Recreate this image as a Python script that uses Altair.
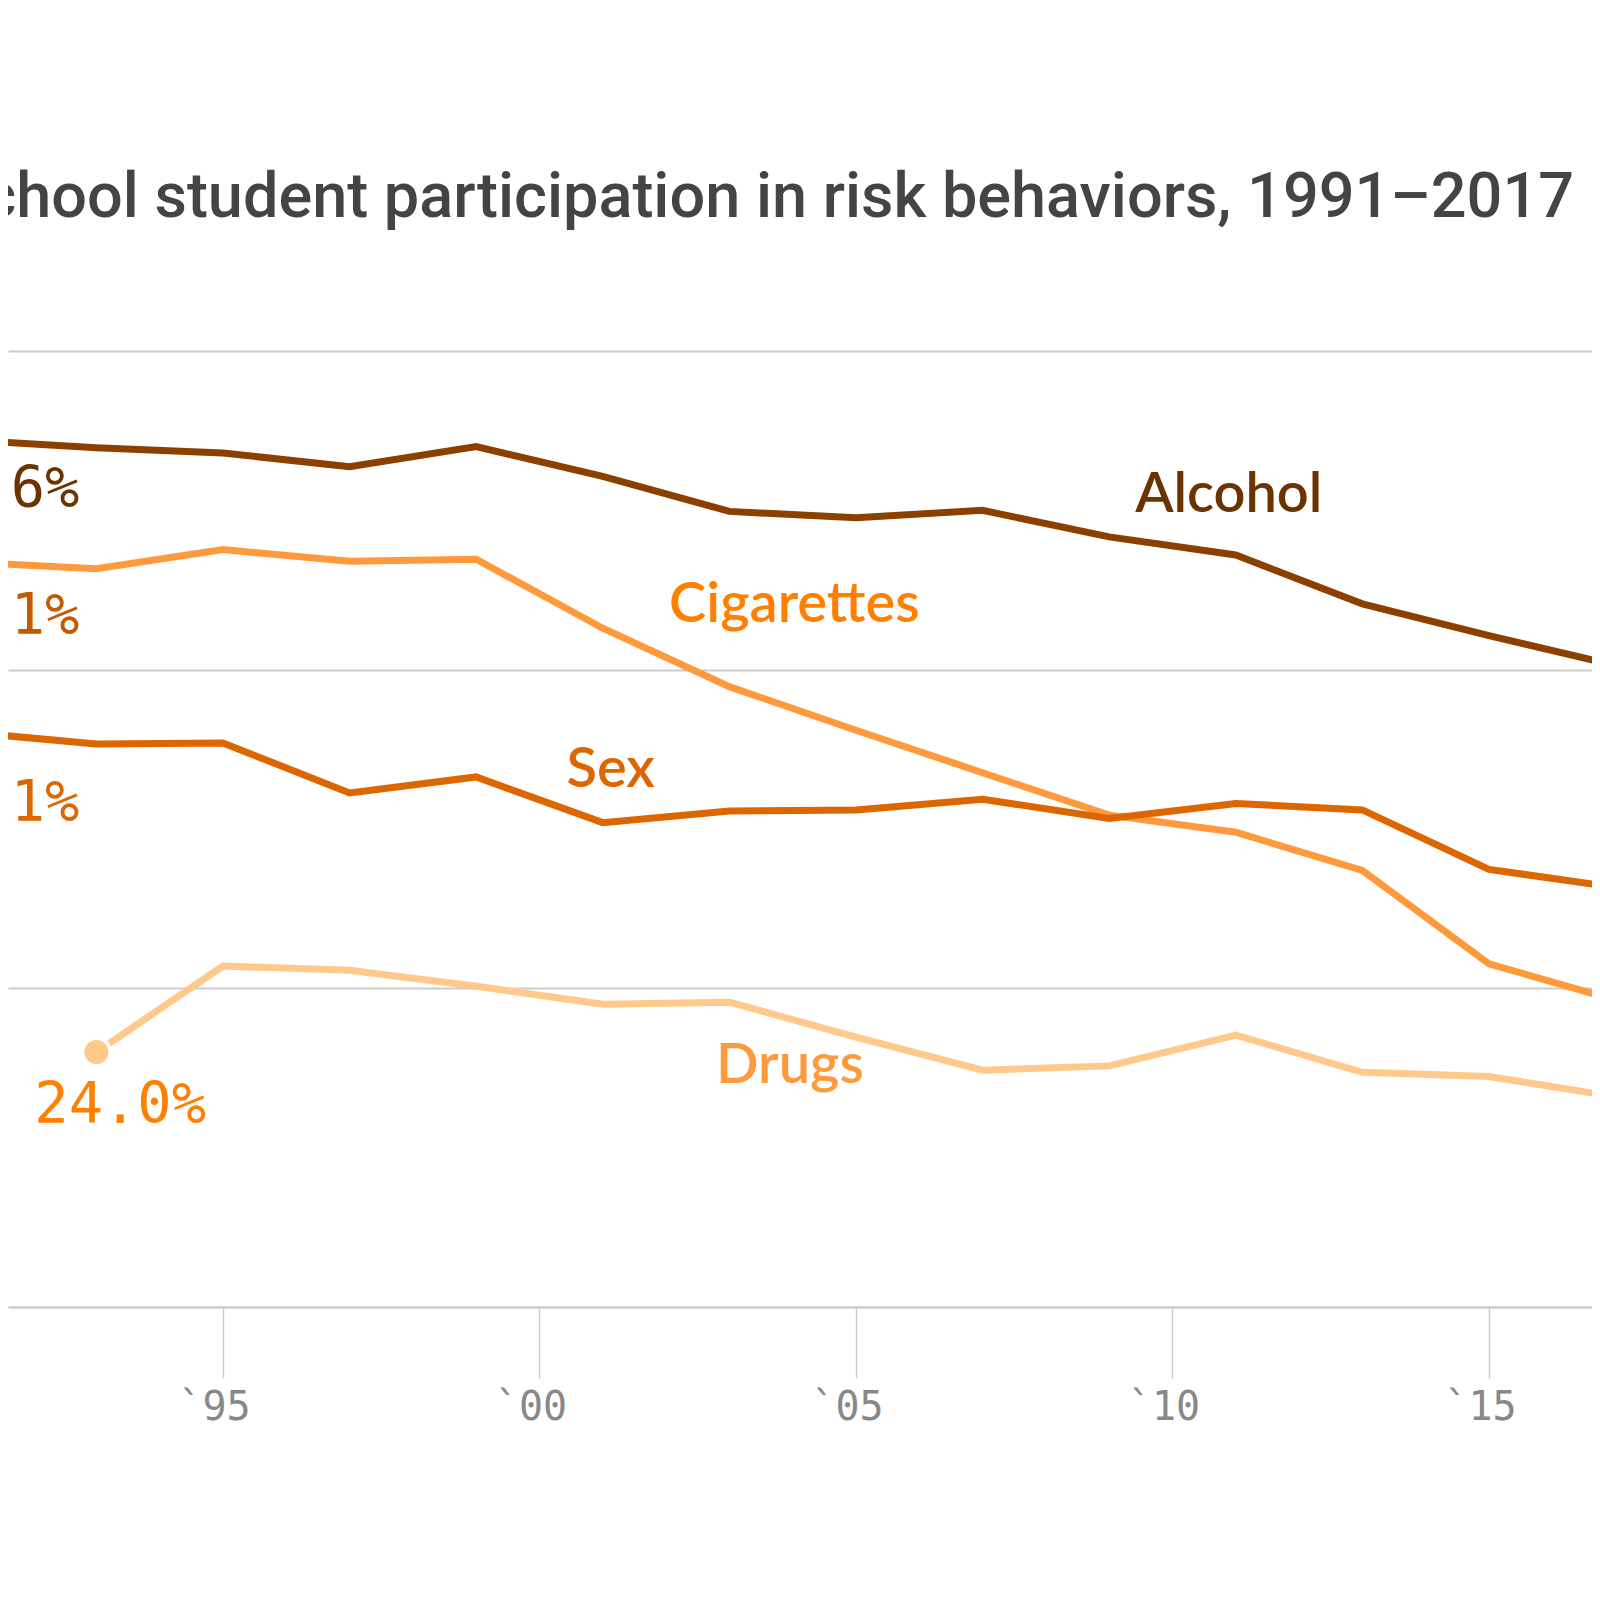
import altair as alt
import pandas as pd

# ---- data ----
years = [1991, 1993, 1995, 1997, 1999, 2001, 2003, 2005, 2007, 2009, 2011, 2013, 2015, 2017]
alcohol = [81.6, 80.9, 80.4, 79.1, 81.0, 78.2, 74.9, 74.3, 75.0, 72.5, 70.8, 66.2, 63.2, 60.4]
cigarettes = [70.1, 69.5, 71.3, 70.2, 70.4, 63.9, 58.4, 54.3, 50.3, 46.3, 44.7, 41.1, 32.3, 28.9]
sex = [54.1, 53.0, 53.1, 48.4, 49.9, 45.6, 46.7, 46.8, 47.8, 46.0, 47.4, 46.8, 41.2, 39.5]
drug_years = [1993, 1995, 1997, 1999, 2001, 2003, 2005, 2007, 2009, 2011, 2013, 2015, 2017]
drugs = [24.0, 32.1, 31.7, 30.2, 28.5, 28.7, 25.4, 22.3, 22.7, 25.6, 22.1, 21.7, 19.8]
tick_years = [1995, 2000, 2005, 2010, 2015]
grid_values = [0, 30, 60, 90]
series_names = ["Alcohol", "Cigarettes", "Sex", "Drugs"]
title_text = "High school student participation in risk behaviors, 1991\u20132017"

rows = []
for name, ys, vs in [("Alcohol", years, alcohol), ("Cigarettes", years, cigarettes),
                     ("Sex", years, sex), ("Drugs", drug_years, drugs)]:
    for y, v in zip(ys, vs):
        rows.append({"series": name, "year": y, "value": v})
df = pd.DataFrame(rows)
first = df.sort_values("year").groupby("series", as_index=False).first()

# ---- styles ----
line_colors = {"Alcohol": "#8B4000", "Cigarettes": "#FF9A3C", "Sex": "#DD6600", "Drugs": "#FFC98B"}
name_colors = {"Alcohol": "#6B3300", "Cigarettes": "#FF8000", "Sex": "#DD6600", "Drugs": "#FF9A3C"}
pct_colors = {"Alcohol": "#6B3300", "Cigarettes": "#C45A00", "Sex": "#DD6600", "Drugs": "#FF7F00"}
# label anchor year and offsets (pixels)
name_anchor = {"Alcohol": (2011, -7, -43), "Cigarettes": (2003, 65, -65),
               "Sex": (2001, 8, -36), "Drugs": (2005, -66, 46)}
pct_dy = {"Alcohol": 67, "Cigarettes": 72, "Sex": 89, "Drugs": 71}

x_scale = alt.Scale(domain=[1991.604, 2016.628], nice=False, zero=False)
y_scale = alt.Scale(domain=[0, 90], nice=False, zero=True)

x_enc = alt.X("year:Q", scale=x_scale, title=None, axis=alt.Axis(
    values=tick_years, grid=False, domainColor="#cccccc", domainWidth=2,
    tickColor="#cccccc", tickWidth=1.5, tickSize=71,
    labelFont="DejaVu Sans Mono", labelFontSize=40, labelColor="#888888",
    labelPadding=9, labelOffset=-9, labelFlush=False, title=None,
    labelExpr="'`' + substring(toString(datum.value), 2, 4)"))
y_enc = alt.Y("value:Q", scale=y_scale, title=None, axis=alt.Axis(
    values=grid_values, grid=True, gridColor="#cccccc", gridWidth=2,
    labels=False, ticks=False, domain=False, title=None))
x_plain = alt.X("year:Q", scale=x_scale, title=None)
y_plain = alt.Y("value:Q", scale=y_scale, title=None)

color_enc = alt.Color("series:N", scale=alt.Scale(
    domain=series_names, range=[line_colors[s] for s in series_names]), legend=None)

base = alt.Chart(df)
lines = base.mark_line(clip=True, strokeWidth=7).encode(
    x=x_enc, y=y_enc, color=color_enc, detail="series:N")

layers = [lines]

dots = alt.Chart(first).transform_filter(alt.datum.series == "Drugs").mark_point(
    filled=True, clip=True, size=760, fill=line_colors["Drugs"], stroke="white",
    strokeWidth=3.5, opacity=1, shape="circle").encode(x=x_plain, y=y_plain)
layers.append(dots)

for s in series_names:
    yr, dx, dy = name_anchor[s]
    layers.append(
        base.transform_filter((alt.datum.series == s) & (alt.datum.year == yr))
        .mark_text(text=s, font="Lato", fontSize=56, fontWeight=600,
                   color=name_colors[s], align="center", baseline="alphabetic",
                   dx=dx, dy=dy)
        .encode(x=x_plain, y=y_plain)
    )
    layers.append(
        alt.Chart(first).transform_filter(alt.datum.series == s)
        .transform_calculate(label="format(datum.value, '.1f') + '%'")
        .mark_text(font="DejaVu Sans Mono", fontSize=57, color=pct_colors[s],
                   align="left", baseline="alphabetic", dx=-62, dy=pct_dy[s])
        .encode(x=x_plain, y=y_plain, text="label:N")
    )

chart = alt.layer(*layers).properties(
    width=1584, height=956,
    autosize=alt.AutoSizeParams(type="none"),
    padding={"left": 0, "top": 343, "right": 0, "bottom": 200},
    title=alt.TitleParams(text=title_text, anchor="end", frame="group",
                          font="Roboto", fontSize=63, fontWeight=500,
                          color="#444444", baseline="alphabetic",
                          offset=71, dx=-18),
    background="white",
).configure_view(stroke=None)

chart.save("out.html", embed_options={"renderer": "svg", "actions": False})
